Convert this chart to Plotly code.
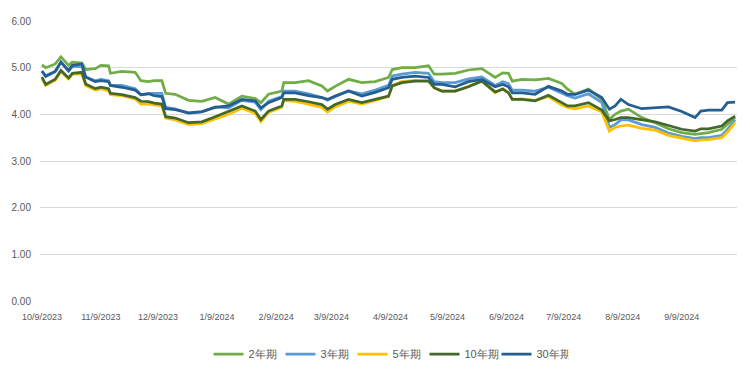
import plotly.graph_objects as go

dates = [
    "2023-10-09", "2023-10-11", "2023-10-16", "2023-10-19", "2023-10-23", "2023-10-25", "2023-10-30",
    "2023-11-01", "2023-11-06", "2023-11-09", "2023-11-13", "2023-11-14", "2023-11-20", "2023-11-27",
    "2023-11-30", "2023-12-04", "2023-12-07", "2023-12-11", "2023-12-13", "2023-12-18", "2023-12-25",
    "2024-01-01", "2024-01-08", "2024-01-15", "2024-01-22", "2024-01-29", "2024-02-01", "2024-02-05",
    "2024-02-12", "2024-02-13", "2024-02-19", "2024-02-26", "2024-03-04", "2024-03-07", "2024-03-11",
    "2024-03-18", "2024-03-25", "2024-04-01", "2024-04-08", "2024-04-10", "2024-04-15", "2024-04-22",
    "2024-04-29", "2024-05-02", "2024-05-06", "2024-05-13", "2024-05-20", "2024-05-27", "2024-06-03",
    "2024-06-07", "2024-06-10", "2024-06-12", "2024-06-17", "2024-06-24", "2024-07-01", "2024-07-08",
    "2024-07-11", "2024-07-15", "2024-07-22", "2024-07-29", "2024-08-02", "2024-08-05", "2024-08-08",
    "2024-08-12", "2024-08-19", "2024-08-26", "2024-09-02", "2024-09-09", "2024-09-16", "2024-09-19",
    "2024-09-23", "2024-09-30", "2024-10-03", "2024-10-07",
]

y2 = [5.06, 5.00, 5.08, 5.23, 5.05, 5.12, 5.10,
      4.96, 4.98, 5.05, 5.04, 4.88, 4.92, 4.90,
      4.72, 4.70, 4.72, 4.72, 4.45, 4.43, 4.30,
      4.28, 4.36, 4.22, 4.39, 4.34, 4.25, 4.43,
      4.50, 4.68, 4.68, 4.72, 4.61, 4.50, 4.60,
      4.75, 4.68, 4.70, 4.79, 4.96, 5.00, 5.00,
      5.04, 4.86, 4.86, 4.88, 4.95, 4.98, 4.79,
      4.89, 4.88, 4.71, 4.75, 4.74, 4.77, 4.66,
      4.54, 4.43, 4.54, 4.32, 3.89, 4.00, 4.07,
      4.11, 3.93, 3.82, 3.69, 3.61, 3.57, 3.59,
      3.61, 3.68, 3.79, 3.93]

y3 = [4.92, 4.83, 4.92, 5.12, 4.92, 5.02, 5.02,
      4.80, 4.72, 4.75, 4.72, 4.62, 4.62, 4.55,
      4.42, 4.45, 4.45, 4.45, 4.15, 4.12, 4.02,
      4.05, 4.16, 4.14, 4.30, 4.26, 4.10, 4.28,
      4.38, 4.50, 4.50, 4.44, 4.36, 4.30, 4.38,
      4.50, 4.44, 4.52, 4.62, 4.82, 4.86, 4.90,
      4.88, 4.70, 4.68, 4.68, 4.76, 4.80, 4.62,
      4.70, 4.66, 4.52, 4.52, 4.50, 4.58, 4.46,
      4.40, 4.35, 4.44, 4.25, 3.72, 3.78, 3.88,
      3.88, 3.78, 3.72, 3.60, 3.53, 3.48, 3.50,
      3.50, 3.55, 3.68, 3.88]

y5 = [4.76, 4.62, 4.73, 4.92, 4.76, 4.86, 4.86,
      4.62, 4.52, 4.55, 4.50, 4.42, 4.40, 4.33,
      4.22, 4.22, 4.20, 4.18, 3.92, 3.88, 3.78,
      3.80, 3.90, 4.00, 4.13, 4.02, 3.84, 4.04,
      4.15, 4.30, 4.28, 4.22, 4.15, 4.05, 4.16,
      4.28, 4.22, 4.30, 4.38, 4.62, 4.70, 4.73,
      4.72, 4.56, 4.50, 4.50, 4.60, 4.72, 4.46,
      4.55, 4.47, 4.32, 4.33, 4.30, 4.38, 4.20,
      4.15, 4.12, 4.18, 4.05, 3.64, 3.72, 3.75,
      3.77, 3.70, 3.66, 3.55, 3.49, 3.43, 3.45,
      3.46, 3.50, 3.62, 3.82]

y10 = [4.80, 4.64, 4.75, 4.94, 4.78, 4.88, 4.90,
       4.65, 4.55, 4.58, 4.55, 4.45, 4.42, 4.36,
       4.28, 4.27, 4.24, 4.22, 3.95, 3.92, 3.82,
       3.84, 3.95, 4.06, 4.18, 4.07, 3.89, 4.07,
       4.18, 4.32, 4.32, 4.27, 4.21, 4.11, 4.21,
       4.32, 4.25, 4.32, 4.39, 4.61, 4.68, 4.71,
       4.71, 4.57, 4.50, 4.50, 4.59, 4.71, 4.48,
       4.54, 4.46, 4.32, 4.32, 4.29, 4.41, 4.25,
       4.18, 4.18, 4.25, 4.09, 3.86, 3.89, 3.93,
       3.93, 3.88, 3.84, 3.76, 3.68, 3.64, 3.69,
       3.69, 3.75, 3.86, 3.96]

y30 = [4.93, 4.81, 4.92, 5.12, 4.94, 5.05, 5.08,
       4.80, 4.70, 4.72, 4.70, 4.62, 4.58, 4.52,
       4.42, 4.44, 4.40, 4.38, 4.12, 4.10, 4.03,
       4.06, 4.15, 4.18, 4.32, 4.29, 4.14, 4.25,
       4.36, 4.46, 4.46, 4.40, 4.36, 4.32, 4.39,
       4.50, 4.39, 4.47, 4.57, 4.75, 4.79, 4.82,
       4.79, 4.64, 4.64, 4.59, 4.70, 4.75, 4.59,
       4.64, 4.59, 4.46, 4.46, 4.43, 4.60, 4.50,
       4.43, 4.43, 4.52, 4.36, 4.11, 4.18, 4.32,
       4.21, 4.12, 4.14, 4.16, 4.06, 3.93, 4.07,
       4.09, 4.09, 4.25, 4.26]

series_names = ["2年期", "3年期", "5年期", "10年期", "30年期"]
series_values = [y2, y3, y5, y10, y30]
series_colors = ["#70AD47", "#5B9BD5", "#FFC000", "#43682B", "#255E91"]

tick_dates = ["2023-10-09", "2023-11-09", "2023-12-09", "2024-01-09", "2024-02-09", "2024-03-09",
              "2024-04-09", "2024-05-09", "2024-06-09", "2024-07-09", "2024-08-09", "2024-09-09"]
tick_labels = ["10/9/2023", "11/9/2023", "12/9/2023", "1/9/2024", "2/9/2024", "3/9/2024",
               "4/9/2024", "5/9/2024", "6/9/2024", "7/9/2024", "8/9/2024", "9/9/2024"]

y_ticks = [0, 1, 2, 3, 4, 5, 6]

fig = go.Figure()
for name, vals, col in zip(series_names, series_values, series_colors):
    fig.add_trace(go.Scatter(
        x=dates, y=vals, name=name, mode="lines",
        line=dict(color=col, width=2.75),
    ))

font_family = "Liberation Sans Narrow, Liberation Sans, Arial, sans-serif"

fig.update_layout(
    width=750, height=384,
    margin=dict(l=37, r=13, t=21, b=83),
    paper_bgcolor="white", plot_bgcolor="white",
    font=dict(family=font_family, color="#595959", size=10),
    showlegend=True,
    legend=dict(
        orientation="h", x=0.5, xanchor="center", y=-0.19, yanchor="middle",
        font=dict(size=11, color="#595959"), itemwidth=30, traceorder="normal",
        entrywidth=27, entrywidthmode="pixels",
    ),
    xaxis=dict(
        type="date", range=["2023-10-08", "2024-10-08"],
        tickvals=tick_dates, ticktext=tick_labels,
        showgrid=False, zeroline=False, showline=False, ticks="",
        tickfont=dict(size=9, color="#595959"), ticklabelstandoff=9,
    ),
    yaxis=dict(
        range=[0, 6], tickvals=y_ticks, tickformat=".2f",
        showgrid=True, gridcolor="#D9D9D9", gridwidth=1,
        zeroline=False, showline=False, ticks="",
        tickfont=dict(size=10, color="#595959"), ticklabelstandoff=8,
    ),
)

fig.write_html(
    "out.html",
    config={"displayModeBar": False},
    post_script="document.body.style.margin='0';document.body.style.overflow='hidden';",
)
